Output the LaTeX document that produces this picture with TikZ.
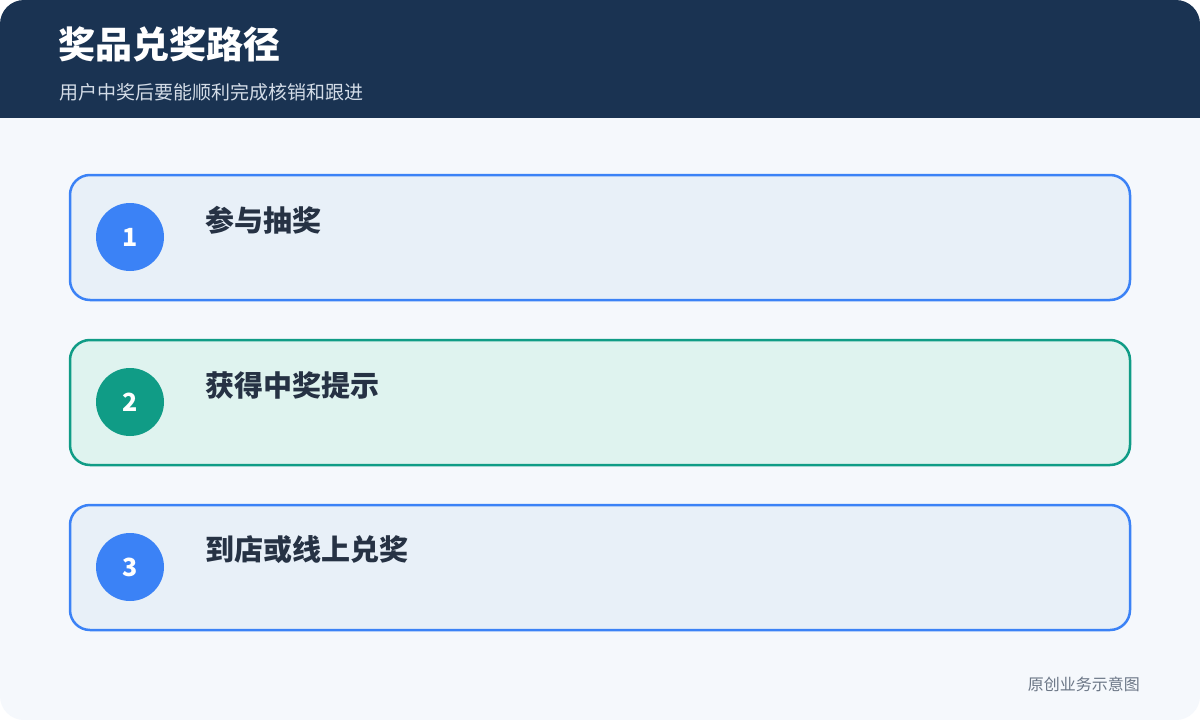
\documentclass[tikz,border=0pt]{standalone}
\usepackage{fontspec}
\setmainfont{Noto Sans CJK SC}
\usepackage{tikz}
\usetikzlibrary{positioning}
\definecolor{headbg}{HTML}{1A3352}
\definecolor{pagebg}{HTML}{F5F8FC}
\definecolor{subtext}{HTML}{D3DCE7}
\definecolor{darktext}{HTML}{263244}
\definecolor{notetext}{HTML}{6B7686}
\definecolor{stepblue}{HTML}{3B82F6}
\definecolor{stepbluefill}{HTML}{E8F0F8}
\definecolor{stepteal}{HTML}{109C86}
\definecolor{steptealfill}{HTML}{DFF3EF}
\tikzset{
  card/.style={rounded corners=20pt,line width=2.5pt,minimum width=1060pt,minimum height=125pt},
  numdot/.style={circle,minimum size=68pt,inner sep=0pt,text=white,font=\fontsize{25}{28}\selectfont\bfseries},
  steplabel/.style={anchor=west,inner sep=0pt,text=darktext,font=\fontsize{29}{32}\selectfont\bfseries}
}
\begin{document}
\begin{tikzpicture}[x=1pt,y=-1pt]
%page
\fill[white](0,0)rectangle(1200,720);
\begin{scope}
\clip[rounded corners=24pt](0,0)rectangle(1200,720);
\fill[pagebg](0,0)rectangle(1200,720);
\fill[headbg](0,0)rectangle(1200,118);
\end{scope}
%header
\node[anchor=west,inner sep=0pt,text=white,font=\fontsize{37}{40}\selectfont\bfseries](title)at(58,44){奖品兑奖路径};
\node[anchor=west,inner sep=0pt,text=subtext,font=\fontsize{19}{22}\selectfont](subtitle)at(59,92){用户中奖后要能顺利完成核销和跟进};
%steps
\foreach \i/\y/\ln/\fl/\t in {1/175/stepblue/stepbluefill/参与抽奖,2/340/stepteal/steptealfill/获得中奖提示,3/505/stepblue/stepbluefill/到店或线上兑奖}{
\node[card,draw=\ln,fill=\fl](card\i)at(600,\y+62.5){};
\node[numdot,fill=\ln](num\i)at(130,\y+62){\i};
\node[steplabel](lbl\i)at(205,\y+45){\t};
}
%footer
\node[anchor=east,inner sep=0pt,text=notetext,font=\fontsize{16}{18}\selectfont](note)at(1140,684){原创业务示意图};
\end{tikzpicture}
\end{document}
